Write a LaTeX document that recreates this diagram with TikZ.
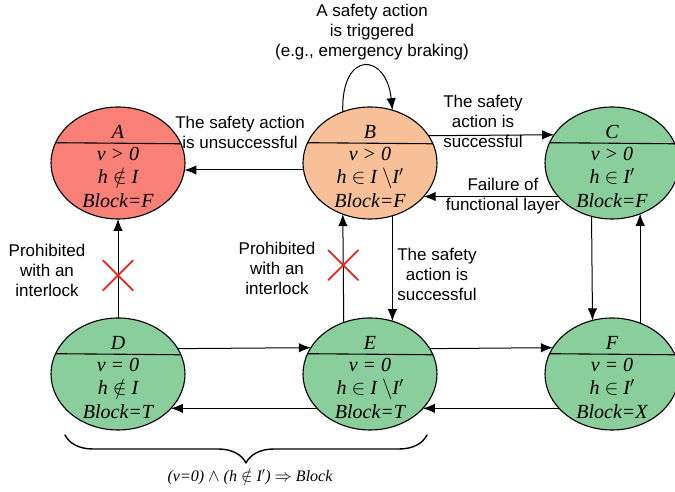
\documentclass[tikz,border=0pt]{standalone}
\usepackage{fontspec}
\setmainfont{Liberation Serif}
\newfontfamily\labfont{Liberation Sans}
\usetikzlibrary{calc,arrows.meta,shapes.geometric,shapes.misc,decorations.pathreplacing}
\definecolor{stred}{RGB}{248,128,118}
\definecolor{storange}{RGB}{248,192,152}
\definecolor{stgreen}{RGB}{138,206,156}
\definecolor{xred}{RGB}{238,36,28}
\tikzset{
    lab/.style={
        font=\labfont\fontsize{17}{20}\selectfont, align=center
    }
}

\begin{document}
\begin{tikzpicture}[x=1pt,y=1pt, line cap=round, line join=round]

% background
\useasboundingbox (0,0) rectangle (675,492);

\tikzset{
  main/.style={draw=black, line width=1.1pt},
  st/.style={ellipse, draw=black, line width=1.1pt, minimum width=134pt, minimum height=112pt, inner sep=0pt, outer sep=0pt},
  stxt/.style={font=\fontsize{20}{23.5}\selectfont\itshape, align=center, inner sep=0pt},
  arr/.style={draw=black, line width=1pt, -{Latex[length=12pt,width=9.5pt]}},
  xcross/.style={cross out, draw=xred, line width=1.8pt, minimum size=28pt, inner sep=0pt, -},
  brc/.style={draw=black, line width=1.4pt, decorate, decoration={brace, mirror, amplitude=28pt}},
}

% states
\node[st, fill=stred]    (A) at (118,329) {};
\node[st, fill=storange] (B) at (370,329) {};
\node[st, fill=stgreen]  (C) at (612,329) {};
\node[st, fill=stgreen]  (D) at (118,118) {};
\node[st, fill=stgreen]  (E) at (370,118) {};
\node[st, fill=stgreen]  (F) at (612,118) {};

% dividers
\draw[main] (A.162.3) -- (A.17.7);
\draw[main] (B.162.3) -- (B.17.7);
\draw[main] (C.162.3) -- (C.17.7);
\draw[main] (D.162.3) -- (D.17.7);
\draw[main] (E.162.3) -- (E.17.7);
\draw[main] (F.162.3) -- (F.17.7);

% state texts
\node[stxt] (A-name) at ($(A)+(0,31)$) {A};
\node[stxt] (A-vals) at ($(A)+(0,-14)$) {v > 0\\h $\notin$ I\\Block=F};

\node[stxt] (B-name) at ($(B)+(0,31)$) {B};
\node[stxt] (B-vals) at ($(B)+(0,-14)$) {v > 0\\h $\in$ I $\backslash$I$'$\\Block=F};

\node[stxt] (C-name) at ($(C)+(0,31)$) {C};
\node[stxt] (C-vals) at ($(C)+(0,-14)$) {v > 0\\h $\in$ I$'$\\Block=F};

\node[stxt] (D-name) at ($(D)+(0,31)$) {D};
\node[stxt] (D-vals) at ($(D)+(0,-14)$) {v = 0\\h $\notin$ I\\Block=T};

\node[stxt] (E-name) at ($(E)+(0,31)$) {E};
\node[stxt] (E-vals) at ($(E)+(0,-14)$) {v = 0\\h $\in$ I $\backslash$I$'$\\Block=T};

\node[stxt] (F-name) at ($(F)+(0,31)$) {F};
\node[stxt] (F-vals) at ($(F)+(0,-14)$) {v = 0\\h $\in$ I$'$\\Block=X};

% transitions: top row
\draw[arr] (B.186) -- (A.-6);
\draw[arr] (B.25.8) -- (C.154.2);
\draw[arr] (C.212.6) -- (B.-32.6);
\draw[arr] (B.118.8) .. controls +(-2,62) and +(-6,58) .. (B.67.4);

% transitions: vertical
\draw[arr] (D.90) -- node[xcross, pos=0.43] (xDA) {} (A.270);
\draw[arr] (E.117.8) -- node[xcross, pos=0.53] (xEB) {} (B.242.2);
\draw[arr] (B.-67.4) -- (E.67.4);
\draw[arr] (C.249.5) -- (F.110.5);
\draw[arr] (F.61.2) -- (C.-61.2);

% transitions: bottom row
\draw[arr] (D.23.7) -- (E.156.3);
\draw[arr] (E.213.8) -- (D.-33.8);
\draw[arr] (E.23.7) -- (F.156.3);
\draw[arr] (F.213.8) -- (E.-33.8);

% labels
\node[lab] (loop-lab) at (372,460) {A safety action\\is triggered\\(e.g., emergency braking)};
\node[lab] (BA-lab) at (240,360) {The safety action\\is unsuccessful};
\node[lab] (BC-lab) at (483,371) {The safety\\action is\\successful};
\node[lab] (CB-lab) at (503,295.5) {Failure of\\functional layer};
\node[lab] (DA-lab) at (47,222) {Prohibited\\with an\\interlock};
\node[lab] (EB-lab) at (277,224) {Prohibited\\with an\\interlock};
\node[lab] (BE-lab) at (437,218) {The safety\\action is\\successful};

% brace
\coordinate (braceL) at (65,57);
\coordinate (braceR) at (427,57);
\draw[brc] (braceL) -- (braceR);
\node[font=\fontsize{16}{19}\selectfont\itshape] (rule) at (250,15) {(v=0) $\wedge$ (h $\notin$ I$'$) $\Rightarrow$ Block};

\end{tikzpicture}
\end{document}
